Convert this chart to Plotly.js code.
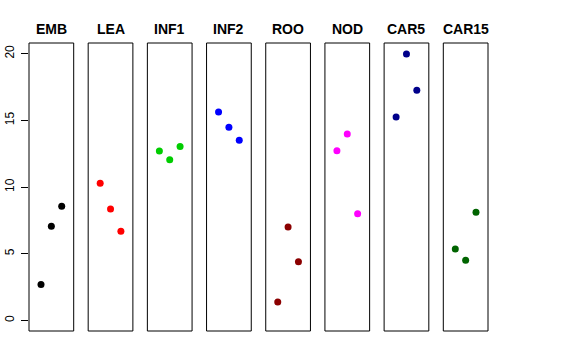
<!DOCTYPE html>
<html>
<head>
<meta charset="utf-8">
<script src="https://cdn.plot.ly/plotly-3.0.1.min.js"></script>
<style>html,body{margin:0;padding:0;background:#fff;}</style>
</head>
<body>
<div id="chart" style="width:576px;height:360px;"></div>
<script>
const panels = ["EMB", "LEA", "INF1", "INF2", "ROO", "NOD", "CAR5", "CAR15"];
const positions = [1, 2, 3];
const valEMB = [2.68, 7.05, 8.55];
const valLEA = [10.28, 8.35, 6.68];
const valINF1 = [12.7, 12.05, 13.03];
const valINF2 = [15.63, 14.48, 13.5];
const valROO = [1.38, 7.0, 4.4];
const valNOD = [12.72, 13.98, 8.0];
const valCAR5 = [15.25, 19.98, 17.25];
const valCAR15 = [5.35, 4.5, 8.1];
const colors = ["#000000", "#FF0000", "#00CD00", "#0000FF", "#8B0000", "#FF00FF", "#00008B", "#006400"];
const yTicks = [0, 5, 10, 15, 20];

const values = [valEMB, valLEA, valINF1, valINF2, valROO, valNOD, valCAR5, valCAR15];

const plotW = 459, panelW = 44.7;
const pitch = (plotW - panelW) / 7;

const traces = [];
const layout = {
  width: 576, height: 360,
  margin: {l: 29, r: 88, t: 43, b: 29},
  paper_bgcolor: "#fff", plot_bgcolor: "#fff",
  showlegend: false,
  font: {family: "Liberation Sans, Arial, sans-serif", color: "#000"},
  shapes: [], annotations: [],
  yaxis: {
    range: [-0.8, 20.8], tickvals: yTicks, ticktext: yTicks.map(String),
    ticks: "outside", ticklen: 7, tickcolor: "#000", tickwidth: 1,
    tickangle: -90, tickfont: {size: 12, color: "#000"},
    showgrid: false, zeroline: false, showline: false, fixedrange: true,
    anchor: "x", ticklabelstandoff: 2
  }
};

panels.forEach((name, i) => {
  const ax = i === 0 ? "x" : "x" + (i + 1);
  const axKey = i === 0 ? "xaxis" : "xaxis" + (i + 1);
  const d0 = (i * pitch) / plotW;
  const d1 = (i * pitch + panelW) / plotW;
  layout[axKey] = {
    domain: [d0, Math.min(d1, 1)], range: [-0.16, 4.16],
    showticklabels: false, ticks: "", showgrid: false, zeroline: false,
    showline: false, fixedrange: true, anchor: "y"
  };
  traces.push({
    type: "scatter", mode: "markers",
    x: positions, y: values[i],
    xaxis: ax, yaxis: "y",
    marker: {color: colors[i], size: 7, line: {width: 0}},
    hoverinfo: "none"
  });
  layout.shapes.push({
    type: "rect", xref: ax + " domain", yref: "y domain",
    x0: 0, x1: 1, y0: 0, y1: 1,
    line: {color: "#000", width: 1}, fillcolor: "rgba(0,0,0,0)"
  });
  layout.annotations.push({
    text: "<b>" + name + "</b>", xref: ax + " domain", yref: "paper",
    x: 0.5, y: 1, yshift: 4, xanchor: "center", yanchor: "bottom",
    showarrow: false, font: {size: 14, color: "#000"}
  });
});

Plotly.newPlot("chart", traces, layout, {displayModeBar: false, staticPlot: true});
</script>
</body>
</html>
